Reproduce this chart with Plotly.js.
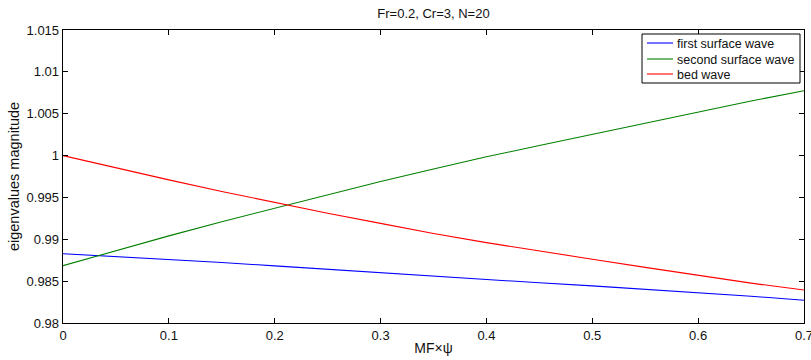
<!DOCTYPE html>
<html>
<head>
<meta charset="utf-8">
<script src="https://cdn.plot.ly/plotly-3.0.1.min.js"></script>
<style>
  html, body { margin: 0; padding: 0; background: #fff; }
  #chart { width: 811px; height: 360px; }
</style>
</head>
<body>
<div id="chart"></div>
<script>
// Eigenvalue magnitudes versus MF×ψ (Fr=0.2, Cr=3, N=20)
const mfPsi = [0, 0.05, 0.1, 0.15, 0.2, 0.25, 0.3, 0.35, 0.4, 0.45, 0.5, 0.55, 0.6, 0.65, 0.7];
const firstSurfaceWave = [0.98828, 0.98795, 0.98760, 0.98723, 0.98682, 0.98640, 0.98597, 0.98558,
                          0.98519, 0.98480, 0.98443, 0.98403, 0.98362, 0.98320, 0.98271];
const secondSurfaceWave = [0.98685, 0.98867, 0.99041, 0.99210, 0.99370, 0.99530, 0.99690, 0.99840,
                           0.99985, 1.00120, 1.00255, 1.00390, 1.00525, 1.00652, 1.00775];
const bedWave = [1.00000, 0.99851, 0.99710, 0.99570, 0.99438, 0.99312, 0.99190, 0.99070,
                 0.98960, 0.98858, 0.98762, 0.98664, 0.98566, 0.98476, 0.98394];
const seriesNames = ['first surface wave', 'second surface wave', 'bed wave'];
const xTicks = [0, 0.1, 0.2, 0.3, 0.4, 0.5, 0.6, 0.7];
const yTicks = [0.98, 0.985, 0.99, 0.995, 1, 1.005, 1.01, 1.015];
const yTickText = ['0.98', '0.985', '0.99', '0.995', '1', '1.005', '1.01', '1.015'];

const font = 'Liberation Sans, Arial, Helvetica, sans-serif';
const colors = ['#0000ff', '#008000', '#ff0000'];
const ys = [firstSurfaceWave, secondSurfaceWave, bedWave];

const W = 811, H = 360;
const M = { l: 63, r: 7, t: 30, b: 37 };
const plotW = W - M.l - M.r, plotH = H - M.t - M.b;
// pixel position inside the figure -> paper coordinates
const px = v => (v - M.l) / plotW;
const py = v => (H - M.b - v) / plotH;

const traces = ys.map((y, i) => ({
  x: mfPsi,
  y: y,
  type: 'scatter',
  mode: 'lines',
  name: seriesNames[i],
  showlegend: false,
  line: { color: colors[i], width: 1.1 }
}));

// Boxed legend in the upper-right corner: short line sample followed by the name
const legendBox = { x0: 642, x1: 800, y0: 34, y1: 83 };
const rowY = [43, 59, 74];
const shapes = [{
  type: 'rect', xref: 'paper', yref: 'paper',
  x0: px(legendBox.x0), x1: px(legendBox.x1), y0: py(legendBox.y1), y1: py(legendBox.y0),
  line: { color: '#000', width: 1 }, fillcolor: '#fff', layer: 'above'
}];
const annotations = [];
seriesNames.forEach((name, i) => {
  shapes.push({
    type: 'line', xref: 'paper', yref: 'paper',
    x0: px(647), x1: px(673), y0: py(rowY[i]), y1: py(rowY[i]),
    line: { color: colors[i], width: 1.1 }, layer: 'above'
  });
  annotations.push({
    xref: 'paper', yref: 'paper', x: px(675), y: py(rowY[i] + 0.5),
    xanchor: 'left', yanchor: 'middle', showarrow: false,
    text: name, font: { family: font, size: 12.5, color: '#111' }
  });
});

const axisCommon = {
  showgrid: false,
  zeroline: false,
  showline: true,
  linecolor: '#000',
  linewidth: 1.3,
  mirror: 'ticks',
  ticks: 'inside',
  ticklen: 5,
  tickwidth: 1,
  tickcolor: '#000',
  ticklabeloverflow: 'allow',
  tickfont: { family: font, size: 13, color: '#111' }
};

const layout = {
  width: W,
  height: H,
  margin: M,
  paper_bgcolor: '#fff',
  plot_bgcolor: '#fff',
  showlegend: false,
  title: {
    text: 'Fr=0.2, Cr=3, N=20',
    font: { family: font, size: 13, color: '#111' },
    x: 0.5, xref: 'paper', xanchor: 'center',
    y: 0.963, yref: 'container', yanchor: 'middle'
  },
  xaxis: Object.assign({}, axisCommon, {
    range: [0, 0.70001],
    tickvals: xTicks,
    ticktext: xTicks.map(v => String(v)),
    title: { text: 'MF×ψ', font: { family: font, size: 14, color: '#111' }, standoff: 1 }
  }),
  yaxis: Object.assign({}, axisCommon, {
    range: [0.98, 1.015],
    tickvals: yTicks,
    ticktext: yTickText,
    title: { text: 'eigenvalues magnitude', font: { family: font, size: 14.5, color: '#111' }, standoff: 3 }
  }),
  shapes: shapes,
  annotations: annotations
};

Plotly.newPlot('chart', traces, layout, { staticPlot: true, displayModeBar: false });
</script>
</body>
</html>
